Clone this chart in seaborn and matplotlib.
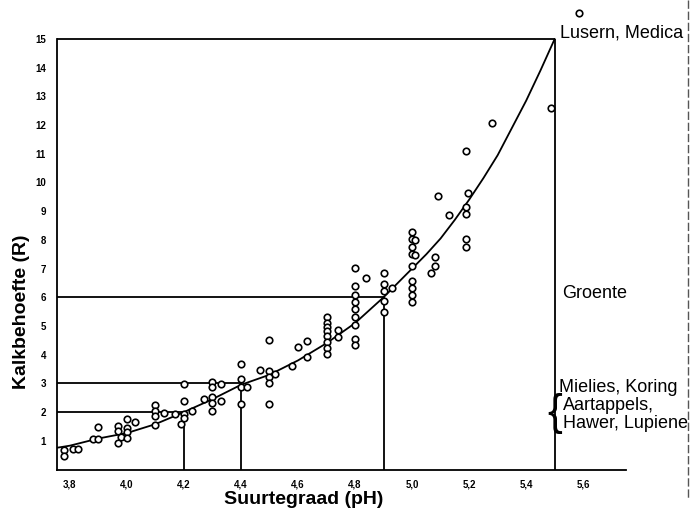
import matplotlib
matplotlib.use("Agg")
import matplotlib.pyplot as plt
import seaborn as sns
import pandas as pd

# ---- data ----
ph_obs = [3.78, 3.78, 3.81, 3.83,
          3.88, 3.90, 3.90,
          3.97, 3.97, 3.98, 3.97, 4.00, 4.00, 4.00, 4.00, 4.03,
          4.10, 4.10, 4.10, 4.10, 4.13,
          4.17, 4.19, 4.20, 4.20, 4.20, 4.20, 4.23,
          4.27, 4.30, 4.30, 4.33, 4.30, 4.30, 4.33, 4.30,
          4.40, 4.40, 4.40, 4.42, 4.40,
          4.465, 4.50, 4.50, 4.50, 4.52, 4.50, 4.50,
          4.58, 4.60, 4.63, 4.63,
          4.70, 4.70, 4.70, 4.70, 4.74, 4.70, 4.74, 4.70, 4.70, 4.70,
          4.80, 4.80, 4.80, 4.80, 4.80, 4.80, 4.80, 4.80, 4.80, 4.84,
          4.90, 4.90, 4.90, 4.90, 4.90, 4.93,
          5.00, 5.00, 5.01, 5.00, 5.00, 5.01, 5.00, 5.00, 5.00, 5.00, 5.00,
          5.066, 5.08, 5.08,
          5.09, 5.13, 5.19, 5.195, 5.19, 5.19, 5.19, 5.19, 5.28, 5.487, 5.586]
r_obs = [0.68, 0.48, 0.71, 0.73,
         1.08, 1.08, 1.48,
         1.52, 1.35, 1.12, 0.92, 1.46, 1.29, 1.09, 1.75, 1.64,
         2.25, 2.05, 1.87, 1.55, 1.96,
         1.93, 1.58, 1.93, 1.81, 2.39, 2.97, 2.05,
         2.45, 3.06, 2.86, 2.97, 2.51, 2.30, 2.39, 2.05,
         3.69, 3.15, 2.86, 2.86, 2.28,
         3.46, 4.51, 3.44, 3.23, 3.32, 3.03, 2.28,
         3.61, 4.27, 3.93, 4.48,
         5.32, 5.12, 4.95, 4.81, 4.86, 4.66, 4.60, 4.43, 4.23, 4.04,
         7.02, 6.40, 6.09, 5.82, 5.59, 5.32, 5.04, 4.54, 4.34, 6.66,
         6.83, 6.46, 6.23, 5.88, 5.47, 6.32,
         8.26, 8.03, 7.99, 7.74, 7.50, 7.48, 7.10, 6.58, 6.34, 6.08, 5.82,
         6.83, 7.10, 7.39,
         9.54, 8.87, 11.08, 9.63, 9.13, 8.90, 8.03, 7.76, 12.06, 12.59, 15.92]

ph_curve = [3.75, 3.8, 3.9, 4.0, 4.1, 4.2, 4.3, 4.4, 4.5, 4.6, 4.7, 4.8,
            4.9, 5.0, 5.05, 5.1, 5.15, 5.2, 5.25, 5.3, 5.35, 5.4, 5.45, 5.5]
r_curve = [0.75, 0.83, 1.08, 1.27, 1.58, 2.0, 2.45, 2.95, 3.3, 3.8, 4.4, 5.1,
           6.0, 7.0, 7.5, 8.05, 8.7, 9.4, 10.15, 10.95, 11.9, 12.85, 13.9, 15.0]

ref_ph = [4.2, 4.4, 4.9, 5.5]
ref_r = [2, 3, 6, 15]

xticks = [3.8, 4.0, 4.2, 4.4, 4.6, 4.8, 5.0, 5.2, 5.4, 5.6]
xtick_labels = ["3,8", "4,0", "4,2", "4,4", "4,6", "4,8", "5,0", "5,2", "5,4", "5,6"]
yticks = list(range(1, 16))
ytick_labels = [str(v) for v in yticks]

crop_labels = ["Lusern, Medica", "Groente", "Mielies, Koring", "Aartappels,", "Hawer, Lupiene"]

# ---- figure ----
sns.set_style("white")
plt.rcParams['font.family'] = ['Liberation Sans', 'DejaVu Sans']
plt.rcParams['text.color'] = 'black'
plt.rcParams['xtick.color'] = 'black'
plt.rcParams['ytick.color'] = 'black'

W, H = 691, 513
fig = plt.figure(figsize=(W / 100, H / 100), dpi=100)
x0_px, x1_px = 57, 626
yb_px, yt_px = 469.5, 4.5
ax = fig.add_axes([x0_px / W, 1 - yb_px / H, (x1_px - x0_px) / W, (yb_px - yt_px) / H])

obs = pd.DataFrame({"pH": ph_obs, "R": r_obs})
curve = pd.DataFrame({"pH": ph_curve, "R": r_curve})

sns.lineplot(data=curve, x="pH", y="R", ax=ax, color="black", lw=1.3, sort=True)
sns.scatterplot(data=obs, x="pH", y="R", ax=ax, s=22, facecolor="white",
                edgecolor="black", linewidth=1.2, zorder=3, clip_on=False)

xmin = 3.755
for p, r in zip(ref_ph, ref_r):
    ax.hlines(r, xmin, p, color="black", lw=1.3)
    ax.vlines(p, 0, r, color="black", lw=1.3)

ax.set_xlim(xmin, 5.75)
ax.set_ylim(0, 16.2)
sns.despine(ax=ax)
ax.spines['left'].set_bounds(0, 15)
for s in ("left", "bottom"):
    ax.spines[s].set_linewidth(1.3)
    ax.spines[s].set_color("black")

ax.set_xticks(xticks)
ax.set_xticklabels(xtick_labels, fontsize=7, fontweight="bold")
ax.set_yticks(yticks)
ax.set_yticklabels(ytick_labels, fontsize=7, fontweight="bold")
ax.tick_params(axis="both", length=0)
ax.tick_params(axis="y", pad=8)
ax.tick_params(axis="x", pad=7)
ax.set_xlabel("")
ax.set_ylabel("")

fig.text(304 / W, 1 - 499 / H, "Suurtegraad (pH)", fontsize=14, fontweight="bold",
         ha="center", va="center")
fig.text(22 / W, 1 - 312 / H, "Kalkbehoefte (R)", fontsize=14, fontweight="bold",
         ha="center", va="center", rotation=90)

# right-hand annotations
pos = [(560, 33), (562, 294), (559, 388), (563, 406), (563, 424)]
for (px, py), lab in zip(pos, crop_labels):
    fig.text(px / W, 1 - py / H, lab, fontsize=13, ha="left", va="center")
fig.text(555 / W, 1 - 414 / H, "{", fontsize=32, ha="center", va="center",
         fontweight="light")

# scan edge on the right
fig.add_artist(plt.Line2D([688 / W, 688 / W], [1 - 0 / H, 1 - 500 / H],
                          transform=fig.transFigure, color="#555555", lw=1,
                          linestyle=(0, (6, 2))))

fig.savefig("out.png", dpi=100)
